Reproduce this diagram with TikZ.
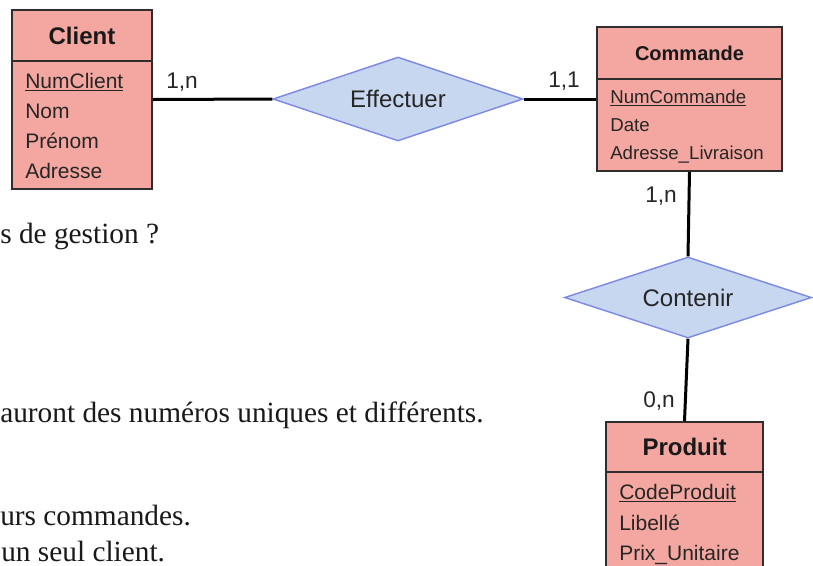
\documentclass[tikz,border=0pt]{standalone}
\usepackage{fontspec}
\setmainfont{Liberation Serif}
\newfontfamily\arial{Liberation Sans}
\usetikzlibrary{shapes.geometric}
\definecolor{entfill}{RGB}{243,167,160}
\definecolor{relfill}{RGB}{200,215,240}
\definecolor{reldraw}{RGB}{125,140,225}
\definecolor{entdraw}{RGB}{50,45,45}
\begin{document}
\begin{tikzpicture}[x=0.75pt,y=-0.75pt,
  entity/.style={draw=entdraw, fill=entfill, line width=1.5pt, inner sep=0pt},
  sepline/.style={draw=entdraw, line width=1.5pt},
  relation/.style={diamond, aspect=3, draw=reldraw, fill=relfill, line width=1.1pt, inner sep=0pt,
     font=\arial\fontsize{18}{21}\selectfont, text=black!85},
  conn/.style={line width=2.25pt, black},
  bgtext/.style={anchor=base west, inner sep=0pt, font=\fontsize{22}{26}\selectfont, text=black!90},
  title/.style={anchor=base, inner sep=0pt, font=\arial\bfseries\fontsize{18}{21}\selectfont, text=black!90},
  attrA/.style={anchor=base west, inner sep=0pt, font=\arial\fontsize{15.75}{18}\selectfont, text=black!85},
  attrB/.style={anchor=base west, inner sep=0pt, font=\arial\fontsize{14}{16}\selectfont, text=black!85},
  card/.style={anchor=base west, inner sep=0pt, font=\arial\fontsize{17}{20}\selectfont, text=black!85}
]
\useasboundingbox (0,0) rectangle (813,565);
% background document text
\node[bgtext] (t1) at (0,243) {s de gestion ?};
\node[bgtext] (t2) at (0,422) {auront des numéros uniques et différents.};
\node[bgtext] (t3) at (0,525) {urs commandes.};
\node[bgtext] (t4) at (1,561) {un seul client.};

% Client
\node[entity, minimum width=140*0.75pt, minimum height=179*0.75pt] (client) at (82,99.5) {};
\draw[sepline] (12,61) -- (152,61);
\node[title] (clientT) at (82,44) {Client};
\node[attrA] (c1) at (25,88) {\underline{NumClient}};
\node[attrA] (c2) at (25,118) {Nom};
\node[attrA] (c3) at (25,148) {Prénom};
\node[attrA] (c4) at (25,178) {Adresse};

% Commande
\node[entity, minimum width=185*0.75pt, minimum height=144*0.75pt] (cmd) at (689.5,99) {};
\draw[sepline] (597,79) -- (782,79);
\node[title, font=\arial\bfseries\fontsize{15}{18}\selectfont] (cmdT) at (689.5,60) {Commande};
\node[attrB] (m1) at (610,103) {\underline{NumCommande}};
\node[attrB] (m2) at (610,131) {Date};
\node[attrB] (m3) at (610,159) {Adresse\_Livraison};

% Produit
\node[entity, minimum width=157*0.75pt, minimum height=178*0.75pt] (prod) at (684.5,511) {};
\draw[sepline] (606,472) -- (763,472);
\node[title] (prodT) at (684.5,455) {Produit};
\node[attrA] (p1) at (619,499) {\underline{CodeProduit}};
\node[attrA] (p2) at (619,530) {Libellé};
\node[attrA] (p3) at (619,560) {Prix\_Unitaire};

% Relations
\node[relation, minimum width=250*0.75pt, minimum height=84*0.75pt] (eff) at (398,99) {Effectuer};
\node[relation, minimum width=247*0.75pt, minimum height=81*0.75pt] (cont) at (688,297.5) {Contenir};

% Connectors
\draw[conn] (client.east) -- (eff.west);
\draw[conn] (eff.east) -- (cmd.west);
\draw[conn] (cmd.south) -- (cont.north);
\draw[conn] (cont.south) -- (prod.north);

% Cardinalities
\node[card] (k1) at (166,88) {1,n};
\node[card] (k2) at (548,87) {1,1};
\node[card] (k3) at (645,202) {1,n};
\node[card] (k4) at (643,407) {0,n};
\end{tikzpicture}
\end{document}
